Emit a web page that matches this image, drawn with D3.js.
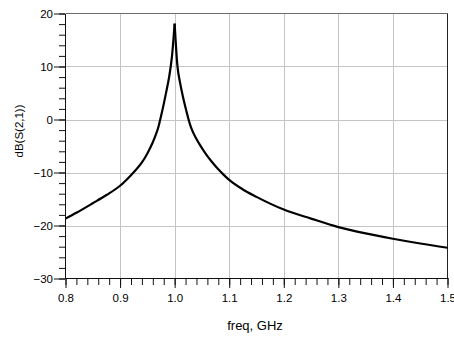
<!DOCTYPE html>
<html lang="en">
<head>
<meta charset="UTF-8">
<title>dB(S(2,1))</title>
<script src="https://d3js.org/d3.v7.min.js"></script>
<style>
  body { margin: 0; background: #fff; }
  svg text { font-family: "Liberation Sans", Arial, sans-serif; fill: #000; }
</style>
</head>
<body>
<svg id="chart" width="454" height="340"></svg>
<script>
  // data
  var freq = [0.80, 0.82, 0.85, 0.875, 0.90, 0.92, 0.93, 0.94, 0.95, 0.96, 0.965, 0.97, 0.975, 0.98, 0.985, 0.99, 0.995, 1.0,
    1.005, 1.01, 1.015, 1.02, 1.025, 1.03, 1.04, 1.05, 1.06, 1.07, 1.08, 1.09, 1.10, 1.125, 1.15, 1.20,
    1.25, 1.30, 1.35, 1.40, 1.45, 1.50];
  var s21 = [-18.7, -17.6, -15.8, -14.25, -12.5, -10.5, -9.4, -8.1, -6.4, -4.3, -3.0, -1.5, 0.6, 2.9, 5.4, 8.1, 11.8, 18.1,
    10.2, 6.9, 4.4, 2.2, 0.2, -1.5, -3.7, -5.4, -6.9, -8.2, -9.4, -10.45, -11.4, -13.2, -14.6, -17.0,
    -18.7, -20.3, -21.5, -22.5, -23.4, -24.2];
  var xTicks = [0.8, 0.9, 1.0, 1.1, 1.2, 1.3, 1.4, 1.5];
  var yTicks = [-30, -20, -10, 0, 10, 20];

  var svg = d3.select("#chart");
  // plot box (top/left are window globals, so other names)
  var pL = 65.5, pR = 447.5, pT = 13.5, pB = 278.5;

  var x = d3.scaleLinear().domain([0.8, 1.5]).range([pL, pR]);
  var y = d3.scaleLinear().domain([-30, 20]).range([pB, pT]);

  var xMinor = d3.range(0, 36).map(function (i) { return +(0.8 + i * 0.02).toFixed(2); });
  var yMinor = d3.range(0, 26).map(function (i) { return -30 + i * 2; });

  // grid
  var grid = svg.append("g");
  grid.selectAll("line.gx")
    .data(xTicks.slice(1, -1))
    .enter().append("line")
    .attr("x1", function (d) { return Math.round(x(d)) + 0.5; })
    .attr("x2", function (d) { return Math.round(x(d)) + 0.5; })
    .attr("y1", pT).attr("y2", pB)
    .attr("stroke", "#c4c4c4");
  grid.selectAll("line.gy")
    .data(yTicks.slice(1, -1))
    .enter().append("line")
    .attr("y1", function (d) { return Math.round(y(d)) + 0.5; })
    .attr("y2", function (d) { return Math.round(y(d)) + 0.5; })
    .attr("x1", pL).attr("x2", pR)
    .attr("stroke", "#c4c4c4");

  // frame top / right
  svg.append("line").attr("x1", pL).attr("x2", pR).attr("y1", pT).attr("y2", pT)
    .attr("stroke", "#6a6a6a");
  svg.append("line").attr("x1", pR).attr("x2", pR).attr("y1", pT).attr("y2", pB)
    .attr("stroke", "#222");

  // curve: two monotone halves so the resonance peak stays sharp
  var pts = freq.map(function (f, i) { return [f, s21[i]]; });
  var peak = d3.maxIndex(s21);
  var line = d3.line()
    .curve(d3.curveMonotoneX)
    .x(function (d) { return x(d[0]); })
    .y(function (d) { return y(d[1]); });
  svg.selectAll("path.trace")
    .data([pts.slice(0, peak + 1), pts.slice(peak)])
    .enter().append("path")
    .attr("class", "trace")
    .attr("d", line)
    .attr("fill", "none")
    .attr("stroke", "#000")
    .attr("stroke-width", 2.2)
    .attr("stroke-linejoin", "miter");

  // minor ticks
  svg.append("g")
    .attr("transform", "translate(0," + (pB - 0.5) + ")")
    .call(d3.axisBottom(x).tickValues(xMinor).tickSize(7).tickFormat(""))
    .call(function (g) { g.select(".domain").remove(); });
  svg.append("g")
    .attr("transform", "translate(" + (pL - 0.5) + ",0)")
    .call(d3.axisLeft(y).tickValues(yMinor).tickSize(6).tickFormat(""))
    .call(function (g) { g.select(".domain").remove(); });

  // major axes
  svg.append("g")
    .attr("transform", "translate(0," + (pB - 0.5) + ")")
    .call(d3.axisBottom(x).tickValues(xTicks).tickSize(10).tickSizeOuter(0).tickPadding(6)
      .tickFormat(d3.format(".1f")));
  svg.append("g")
    .attr("transform", "translate(" + (pL - 0.5) + ",0)")
    .call(d3.axisLeft(y).tickValues(yTicks).tickSize(11).tickSizeOuter(0).tickPadding(1)
      .tickFormat(d3.format("d")));
  svg.selectAll(".tick text").attr("font-size", 11.5).attr("font-family", null);
  svg.selectAll(".tick line").attr("stroke", "#111");
  svg.selectAll(".domain").attr("stroke", "#111");

  // axis titles
  svg.append("text")
    .attr("x", 255).attr("y", 330)
    .attr("text-anchor", "middle")
    .attr("font-size", 13)
    .text("freq, GHz");
  svg.append("text")
    .attr("transform", "translate(23,131) rotate(-90)")
    .attr("text-anchor", "middle")
    .attr("font-size", 11.5)
    .text("dB(S(2,1))");
</script>
</body>
</html>
